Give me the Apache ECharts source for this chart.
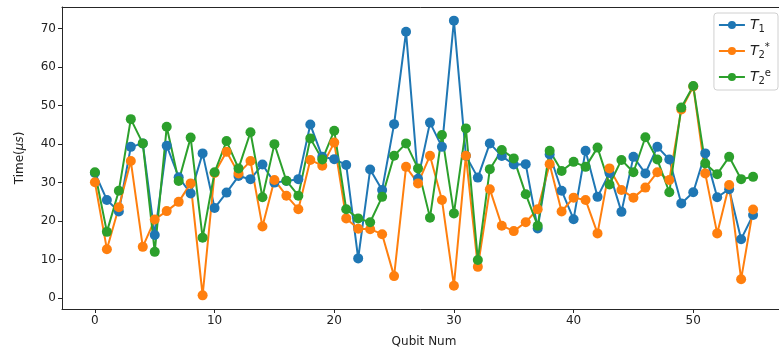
<!DOCTYPE html>
<html>
<head>
<meta charset="utf-8">
<script src="https://cdn.jsdelivr.net/npm/echarts@6/dist/echarts.min.js"></script>
<style>
  html, body { margin: 0; padding: 0; background: #fff; }
  #chart { width: 779px; height: 356px; }
</style>
</head>
<body>
<div id="chart"></div>
<script>
// Qubit indices
const qubits = [0, 1, 2, 3, 4, 5, 6, 7, 8, 9, 10, 11, 12, 13, 14, 15, 16, 17, 18, 19,
  20, 21, 22, 23, 24, 25, 26, 27, 28, 29, 30, 31, 32, 33, 34, 35, 36, 37, 38, 39,
  40, 41, 42, 43, 44, 45, 46, 47, 48, 49, 50, 51, 52, 53, 54, 55];

// Coherence times (µs) per qubit
const t1 = [32.5, 25.5, 22.5, 39.3, 40.2, 16.4, 39.6, 31.4, 27.2, 37.6,
  23.4, 27.4, 31.7, 30.9, 34.7, 30.0, 30.4, 30.9, 45.1, 36.7,
  36.1, 34.6, 10.3, 33.4, 28.1, 45.2, 69.2, 31.0, 45.6, 39.3,
  72.1, 37.0, 31.3, 40.2, 36.9, 34.7, 34.8, 18.1, 37.3, 27.9,
  20.5, 38.3, 26.3, 32.5, 22.4, 36.7, 32.4, 39.3, 36.0, 24.6,
  27.5, 37.6, 26.2, 28.3, 15.3, 21.6];

const t2Star = [30.1, 12.7, 23.6, 35.6, 13.3, 20.4, 22.6, 25.0, 29.8, 0.7,
  32.5, 38.0, 32.4, 35.6, 18.6, 30.7, 26.6, 23.1, 35.9, 34.4,
  40.4, 20.7, 18.0, 17.9, 16.6, 5.7, 34.1, 29.8, 37.0, 25.5,
  3.2, 37.0, 8.1, 28.3, 18.8, 17.4, 19.7, 23.1, 34.8, 22.5,
  26.1, 25.5, 16.8, 33.7, 28.1, 26.1, 28.7, 32.7, 30.7, 49.0,
  55.0, 32.4, 16.8, 29.4, 4.9, 23.0];

const t2Echo = [32.7, 17.2, 27.9, 46.5, 40.2, 12.0, 44.5, 30.4, 41.7, 15.7,
  32.7, 40.8, 33.7, 43.1, 26.2, 40.0, 30.5, 26.6, 41.5, 36.0,
  43.5, 23.1, 20.7, 19.7, 26.3, 37.0, 40.2, 33.7, 20.9, 42.4,
  22.0, 44.1, 9.9, 33.5, 38.5, 36.3, 27.0, 18.8, 38.3, 33.0,
  35.4, 34.1, 39.1, 29.5, 35.9, 32.7, 41.8, 36.0, 27.5, 49.5,
  55.1, 35.0, 32.2, 36.7, 30.9, 31.5];

// Tick labels
const xTicks = [0, 10, 20, 30, 40, 50];
const yTicks = [0, 10, 20, 30, 40, 50, 60, 70];

const seriesNames = ['T1', 'T2*', 'T2e'];
const colors = ['#1f77b4', '#ff7f0e', '#2ca02c'];

const pair = vals => qubits.map((q, i) => [q, vals[i]]);

const legendLabels = {
  'T1': '{t|T}{sub|1}',
  'T2*': '{t|T}{sub|2}{sup|*}',
  'T2e': '{t|T}{sub|2}{sup|e}'
};

const font = 'DejaVu Sans';
const spine = '#262626';

function lineSeries(name, vals, color) {
  return {
    name: name,
    type: 'line',
    data: pair(vals),
    symbol: 'circle',
    symbolSize: 10,
    showSymbol: true,
    lineStyle: { color: color, width: 2 },
    itemStyle: { color: color },
    emphasis: { disabled: true },
    animation: false
  };
}

const chart = echarts.init(document.getElementById('chart'), null, { renderer: 'canvas' });
chart.setOption({
  animation: false,
  color: colors,
  textStyle: { fontFamily: font },
  grid: {
    left: 62, top: 7, width: 724, height: 302,
    outerBoundsMode: 'none',
    containLabel: false,
    show: false
  },
  legend: {
    right: 1, top: 13, orient: 'vertical',
    data: seriesNames,
    itemWidth: 26, itemHeight: 10, itemGap: 8,
    backgroundColor: '#fff', borderColor: '#d0d0d0', borderWidth: 1, borderRadius: 3,
    padding: [5, 7, 4, 4],
    formatter: name => legendLabels[name],
    textStyle: {
      color: '#222',
      rich: {
        t: { fontFamily: font, fontStyle: 'italic', fontSize: 14, color: '#222' },
        sub: { fontFamily: font, fontSize: 10, color: '#222', padding: [8, 0, 0, 0] },
        sup: { fontFamily: font, fontSize: 10, color: '#222', padding: [0, 0, 8, 0] }
      }
    }
  },
  xAxis: [{
    type: 'value',
    min: -2.75, max: 57.75,
    name: 'Qubit Num', nameLocation: 'middle', nameGap: 27,
    nameTextStyle: { fontFamily: font, fontSize: 12, color: '#222' },
    splitLine: { show: false },
    axisLine: { show: true, onZero: false, lineStyle: { color: spine, width: 1 } },
    axisTick: { show: true, length: 4, customValues: xTicks, lineStyle: { color: spine } },
    axisLabel: { customValues: xTicks, fontFamily: font, fontSize: 12, color: '#222', margin: 6 }
  }, {
    // top frame line
    type: 'value', position: 'top',
    min: -2.75, max: 57.75,
    splitLine: { show: false },
    axisLine: { show: true, onZero: false, lineStyle: { color: spine, width: 1 } },
    axisTick: { show: false },
    axisLabel: { show: false }
  }],
  yAxis: {
    type: 'value',
    min: -2.85, max: 75.65,
    name: 'Time({i|μs})', nameLocation: 'middle', nameGap: 36,
    nameTextStyle: {
      fontFamily: font, fontSize: 12, color: '#222',
      rich: { i: { fontFamily: font, fontStyle: 'italic', fontSize: 12, color: '#222' } }
    },
    splitLine: { show: false },
    axisLine: { show: true, onZero: false, lineStyle: { color: spine, width: 1 } },
    axisTick: { show: true, length: 4, customValues: yTicks, lineStyle: { color: spine } },
    axisLabel: { customValues: yTicks, fontFamily: font, fontSize: 12, color: '#222', margin: 6 }
  },
  series: [
    lineSeries('T1', t1, colors[0]),
    lineSeries('T2*', t2Star, colors[1]),
    lineSeries('T2e', t2Echo, colors[2])
  ]
});
</script>
</body>
</html>
